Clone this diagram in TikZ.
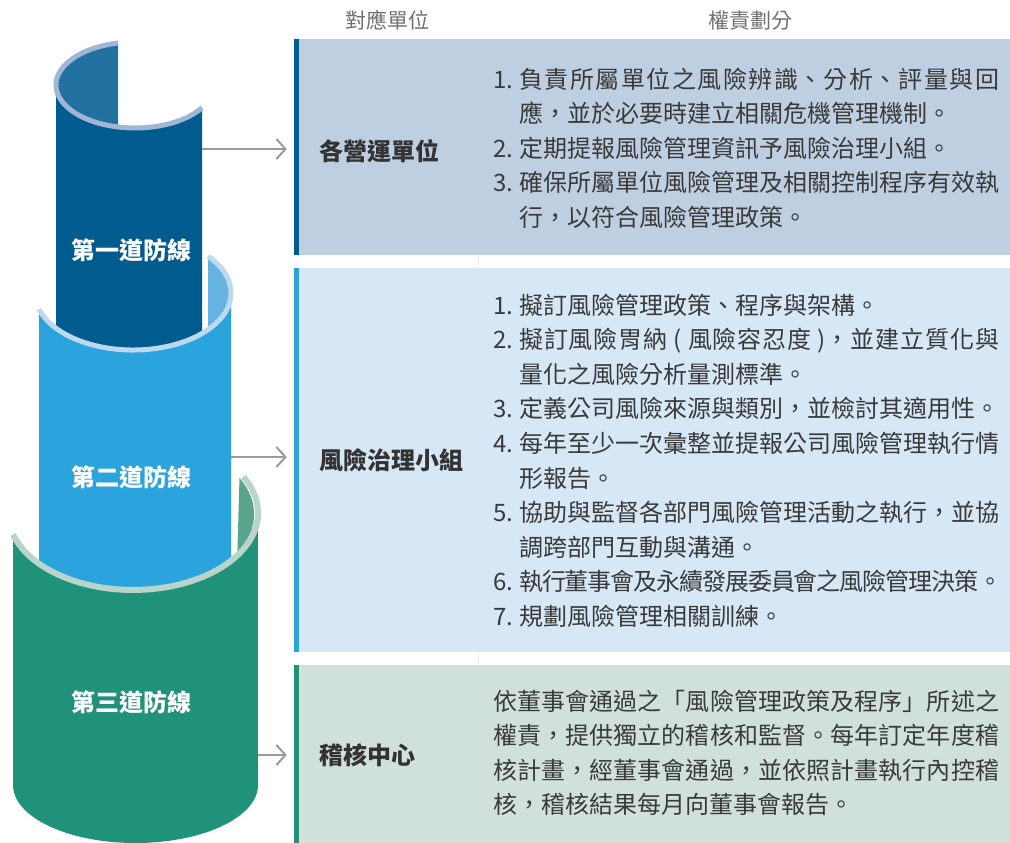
\documentclass[tikz,border=0pt]{standalone}
\usepackage{fontspec}
\setmainfont{Noto Sans CJK TC}
\usetikzlibrary{arrows.meta}
\XeTeXlinebreaklocale "zh"
\XeTeXlinebreakskip=0pt plus 3pt minus 2pt
\definecolor{c1}{HTML}{005B8F}
\definecolor{c1in}{HTML}{2371A1}
\definecolor{c1rim}{HTML}{9FB7D4}
\definecolor{c2}{HTML}{2BA3DC}
\definecolor{c2in}{HTML}{66B2E1}
\definecolor{c2rim}{HTML}{BCD9F0}
\definecolor{c3}{HTML}{21927A}
\definecolor{c3in}{HTML}{58A48C}
\definecolor{c3rim}{HTML}{B9D4CA}
\definecolor{p1c}{HTML}{BFCFE2}
\definecolor{p2c}{HTML}{D6E7F5}
\definecolor{p3c}{HTML}{D0E1DA}
\definecolor{txt}{HTML}{3A3A3A}
\definecolor{labc}{HTML}{333333}
\definecolor{headc}{HTML}{707070}
\definecolor{arrc}{HTML}{9A9A9A}
\definecolor{gapc}{HTML}{ECEFF2}
\newcommand{\jline}[2]{\parbox[b]{#1}{\parindent=0pt\parfillskip=0pt\leftskip=0pt\rightskip=0pt\tolerance=9999\relax #2}}
\begin{document}
\begin{tikzpicture}[x=1pt,y=-1pt,
  body/.style={font=\fontsize{24}{28}\selectfont, text=txt, anchor=west, inner sep=0pt, text height=21.1pt, text depth=2.9pt},
  lab/.style={font=\fontsize{24}{28}\selectfont\bfseries, text=labc, anchor=west, inner sep=0pt, text height=21.1pt, text depth=2.9pt},
  cyltext/.style={font=\fontsize{24}{28}\selectfont\bfseries, text=white, inner sep=0pt, text height=21.1pt, text depth=2.9pt},
  head/.style={font=\fontsize{21}{24}\selectfont, text=headc, inner sep=0pt, text height=18.5pt, text depth=2.5pt},
  panel/.style={draw=none, inner sep=0pt, minimum width=716pt},
  arr/.style={draw=arrc, line width=2pt, -{Straight Barb[length=9pt,width=20pt,line width=2pt]}},
  gapline/.style={draw=gapc, line width=1pt}
]
\useasboundingbox (0,0) rectangle (1010,843);

% ---------- cylinder 1 (back) ----------
\fill[c1in] (56,85) arc[start angle=180,end angle=257.6,x radius=79,y radius=43]
  -- (118.04,127) arc[start angle=102.4,end angle=180,x radius=79,y radius=43] -- cycle;
\fill[c1] (56,85) -- (56,400) -- (202,400) -- (202,107.8)
  arc[start angle=32,end angle=180,x radius=79,y radius=43] -- cycle;
\draw[c1rim,line width=5pt] (118.04,43) arc[start angle=257.6,end angle=32,x radius=79,y radius=43];
\node[cyltext] (t1) at (131,250) {第一道防線};

% ---------- cylinder 2 ----------
\fill[c2in] (208,256.3) arc[start angle=-40.1,end angle=40.1,x radius=98,y radius=57] -- cycle;
\fill[c2] (39,309.1) arc[start angle=163.6,end angle=0,x radius=98,y radius=57]
  -- (231,700) -- (39,700) -- cycle;
\draw[c2rim,line width=5pt] (208,256.3) arc[start angle=-40.1,end angle=163.6,x radius=98,y radius=57];
\node[cyltext] (t2) at (131,477) {第二道防線};

% ---------- cylinder 3 (front) ----------
\fill[c3in] (239.5,478) arc[start angle=-28,end angle=30,x radius=125,y radius=77] -- cycle;
\fill[c3] (13,534.6) arc[start angle=163.7,end angle=0,x radius=125,y radius=77]
  -- (258,785) arc[start angle=0,end angle=180,x radius=122.5,y radius=58] -- cycle;
\draw[c3rim,line width=6pt] (243.4,476.8) arc[start angle=-28,end angle=163.7,x radius=125,y radius=77];
\node[cyltext] (t3) at (131,702) {第三道防線};

% ---------- headers ----------
\node[head] (h1) at (387,21) {對應單位};
\node[head] (h2) at (750,21) {權責劃分};

% ---------- panels ----------
\node[panel, fill=p1c, minimum height=216pt] (P1) at (652,147) {};
\node[panel, fill=p2c, minimum height=384pt] (P2) at (652,460) {};
\node[panel, fill=p3c, minimum height=178pt] (P3) at (652,754) {};
\fill[c1] (P1.north west) rectangle ([xshift=5pt]P1.south west);
\fill[c2] (P2.north west) rectangle ([xshift=5pt]P2.south west);
\fill[c3] (P3.north west) rectangle ([xshift=5pt]P3.south west);
\draw[gapline] (478,255.5) -- (478,267.5);
\draw[gapline] (478,652.5) -- (478,664.5);

% ---------- arrows ----------
\coordinate (a1) at (202,149);
\coordinate (a2) at (231,457);
\coordinate (a3) at (258,755);
\draw[arr] (a1) -- ([xshift=-7pt]a1 -| P1.west);
\draw[arr] (a2) -- ([xshift=-7pt]a2 -| P2.west);
\draw[arr] (a3) -- ([xshift=-7pt]a3 -| P3.west);

% ---------- panel labels ----------
\node[lab] (l1) at (319,151) {各營運單位};
\node[lab] (l2) at (319,460) {風險治理小組};
\node[lab] (l3) at (319,755) {稽核中心};

% ---------- panel 1 text ----------
\node[body] (n11) at (493,79) {1.};
\node[body] (x11) at (519,79) {\jline{480pt}{負責所屬單位之風險辨識、分析、評量與回}};
\node[body] (x12) at (519,113.5) {應，並於必要時建立相關危機管理機制。};
\node[body] (n12) at (493,148) {2.};
\node[body] (x13) at (519,148) {定期提報風險管理資訊予風險治理小組。};
\node[body] (n13) at (493,182.5) {3.};
\node[body] (x14) at (519,182.5) {\jline{480pt}{確保所屬單位風險管理及相關控制程序有效執}};
\node[body] (x15) at (519,217) {行，以符合風險管理政策。};

% ---------- panel 2 text ----------
\node[body] (n21) at (493,305) {1.};
\node[body] (x21) at (519,305) {擬訂風險管理政策、程序與架構。};
\node[body] (n22) at (493,339.6) {2.};
\node[body] (x22) at (519,339.6) {\jline{480pt}{擬訂風險胃納 ( 風險容忍度 )，並建立質化與}};
\node[body] (x23) at (519,374.2) {量化之風險分析量測標準。};
\node[body] (n23) at (493,408.8) {3.};
\node[body] (x24) at (519,408.8) {定義公司風險來源與類別，並檢討其適用性。};
\node[body] (n24) at (493,443.4) {4.};
\node[body] (x25) at (519,443.4) {\jline{480pt}{每年至少一次彙整並提報公司風險管理執行情}};
\node[body] (x26) at (519,478) {形報告。};
\node[body] (n25) at (493,512.6) {5.};
\node[body] (x27) at (519,512.6) {\jline{480pt}{協助與監督各部門風險管理活動之執行，並協}};
\node[body] (x28) at (519,547.2) {調跨部門互動與溝通。};
\node[body] (n26) at (493,581.8) {6.};
\node[body] (x29) at (519,581.8) {\jline{483pt}{執行董事會及永續發展委員會之風險管理決策。}};
\node[body] (n27) at (493,616.4) {7.};
\node[body] (x2a) at (519,616.4) {規劃風險管理相關訓練。};

% ---------- panel 3 text ----------
\node[body] (x31) at (493,701) {\jline{506pt}{依董事會通過之「風險管理政策及程序」所述之}};
\node[body] (x32) at (493,735.6) {\jline{506pt}{權責，提供獨立的稽核和監督。每年訂定年度稽}};
\node[body] (x33) at (493,770.2) {\jline{506pt}{核計畫，經董事會通過，並依照計畫執行內控稽}};
\node[body] (x34) at (493,804.8) {核，稽核結果每月向董事會報告。};
\end{tikzpicture}
\end{document}
